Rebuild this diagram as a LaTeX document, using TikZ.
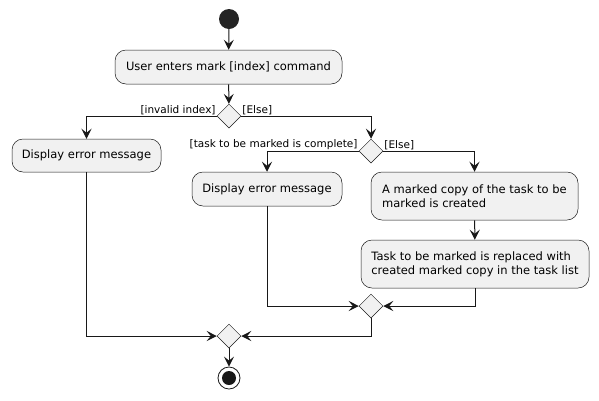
\documentclass[tikz,border=0pt]{standalone}
\usepackage{fontspec}
\setmainfont{DejaVu Sans}
\usetikzlibrary{arrows.meta,shapes.geometric}
\definecolor{boxfill}{HTML}{F1F1F1}
\definecolor{ink}{HTML}{181818}
\tikzset{
  act/.style={rectangle, rounded corners=11pt, draw=ink, line width=0.5pt, fill=boxfill,
    align=left, font=\fontsize{11.5}{14}\selectfont, inner sep=0pt},
  branch/.style={diamond, draw=ink, line width=0.5pt, fill=boxfill, minimum width=24, minimum height=24, inner sep=0pt},
  guard/.style={font=\fontsize{10.5}{12}\selectfont, inner sep=1pt},
  flow/.style={draw=ink, line width=1pt, -{Stealth[length=10pt,width=10pt,inset=4pt]}},
}
\begin{document}
\begin{tikzpicture}[x=1pt,y=-1pt]
  \useasboundingbox (0,0) rectangle (599,400);
  \node[circle, fill=ink!95, minimum size=20, inner sep=0pt] (start) at (229,19) {};
  \node[act, minimum width=227, minimum height=34] (cmd) at (228.5,67) {User enters mark [index] command};
  \node[branch] (chk1) at (229,116) {};
  \node[act, minimum width=149, minimum height=33] (err1) at (86.5,155.5) {Display error message};
  \node[branch] (chk2) at (371,151) {};
  \node[act, minimum width=150, minimum height=34] (err2) at (267,189) {Display error message};
  \node[act, minimum width=207, minimum height=48] (copy) at (474.5,196) {A marked copy of the task to be\\marked is created};
  \node[act, minimum width=228, minimum height=48] (replace) at (475,264) {Task to be marked is replaced with\\created marked copy in the task list};
  \node[branch] (merge2) at (371,306) {};
  \node[branch] (merge1) at (229,336) {};
  \node[circle, draw=ink, line width=0.8pt, fill=white, minimum size=22, inner sep=0pt] (stop) at (229,378) {};
  \fill[ink] (stop) circle (7);
  % guards
  \node[guard, anchor=south east] (g1) at (chk1.west) {[invalid index]};
  \node[guard, anchor=south west] (g2) at (chk1.east) {[Else]};
  \node[guard, anchor=south east] (g3) at (chk2.west) {[task to be marked is complete]};
  \node[guard, anchor=south west] (g4) at (chk2.east) {[Else]};
  % flows
  \draw[flow] (start) -- (cmd);
  \draw[flow] (cmd) -- (chk1);
  \draw[flow] (chk1.west) -| (err1);
  \draw[flow] (chk1.east) -| (chk2.north);
  \draw[flow] (chk2.west) -| (err2);
  \draw[flow] (chk2.east) -| (copy);
  \draw[flow] (copy) -- (replace);
  \draw[flow] (err2) |- (merge2.west);
  \draw[flow] (replace) |- (merge2.east);
  \draw[flow] (merge2.south) |- (merge1.east);
  \draw[flow] (err1) |- (merge1.west);
  \draw[flow] (merge1) -- (stop);
\end{tikzpicture}
\end{document}
